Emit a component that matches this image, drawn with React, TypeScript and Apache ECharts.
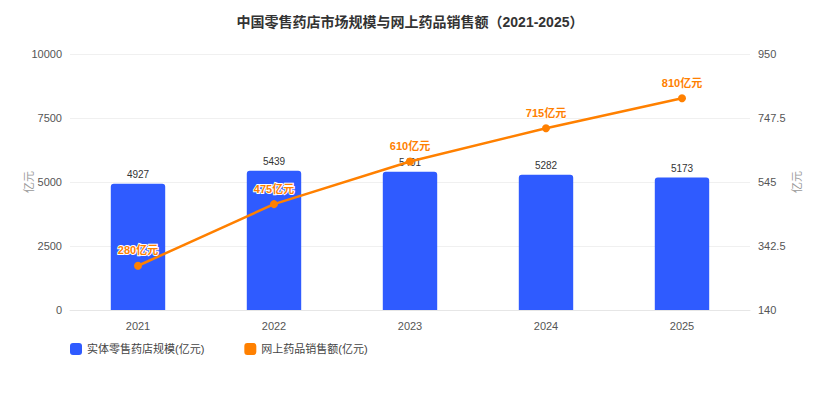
import { useEffect, useRef } from 'react';
import * as echarts from 'echarts';

const years = ['2021', '2022', '2023', '2024', '2025'];
const storeScale = [4927, 5439, 5401, 5282, 5173];
const onlineSales = [280, 475, 610, 715, 810];

export default function App() {
    const chartRef = useRef<HTMLDivElement>(null);

    useEffect(() => {
        if (!chartRef.current) return;
        const chart = echarts.init(chartRef.current, undefined, { renderer: 'svg' });

        chart.setOption({
            animation: false,
            textStyle: { fontFamily: 'Arial, "Liberation Sans", "Noto Sans CJK SC", sans-serif' },
            title: {
                text: '中国零售药店市场规模与网上药品销售额（2021-2025）',
                left: 'center',
                top: 10,
                textStyle: { fontSize: 14, fontWeight: 'bold', color: '#333' },
            },
            legend: {
                left: 65,
                top: 338,
                itemWidth: 12,
                itemHeight: 12,
                itemGap: 40,
                icon: 'roundRect',
                textStyle: { fontSize: 11, color: '#444' },
            },
            grid: { left: 70, right: 70, top: 54, height: 256 },
            xAxis: {
                type: 'category',
                data: years,
                axisLine: { lineStyle: { color: '#e6e6e6' } },
                axisTick: { show: false },
                axisLabel: { color: '#555', fontSize: 11, margin: 10 },
            },
            yAxis: [
                {
                    type: 'value',
                    name: '亿元',
                    nameLocation: 'middle',
                    nameGap: 36,
                    nameMoveOverlap: false,
                    nameTextStyle: { color: '#999', fontSize: 11 },
                    min: 0,
                    max: 10000,
                    interval: 2500,
                    axisLabel: { color: '#555', fontSize: 11, formatter: (v: number) => String(v) },
                    splitLine: { lineStyle: { color: '#f0f0f0' } },
                },
                {
                    type: 'value',
                    name: '亿元',
                    nameLocation: 'middle',
                    nameGap: 41,
                    nameMoveOverlap: false,
                    nameTextStyle: { color: '#999', fontSize: 11 },
                    min: 140,
                    max: 950,
                    interval: 202.5,
                    axisLabel: { color: '#555', fontSize: 11 },
                    splitLine: { show: false },
                },
            ],
            series: [
                {
                    name: '实体零售药店规模(亿元)',
                    type: 'bar',
                    data: storeScale,
                    barWidth: '40%',
                    itemStyle: { color: '#2F5BFF', borderRadius: [3, 3, 0, 0] },
                    label: { show: true, position: 'top', color: '#333', fontSize: 10, distance: 4 },
                },
                {
                    name: '网上药品销售额(亿元)',
                    type: 'line',
                    yAxisIndex: 1,
                    data: onlineSales,
                    symbol: 'circle',
                    symbolSize: 8,
                    lineStyle: { color: '#FF8000', width: 2.5 },
                    itemStyle: { color: '#FF8000' },
                    label: {
                        show: true,
                        position: 'top',
                        formatter: '{c}亿元',
                        color: '#FF8000',
                        fontWeight: 'bold',
                        fontSize: 11,
                        textBorderColor: '#fff',
                        textBorderWidth: 2,
                        distance: 6,
                    },
                },
            ],
        });

        return () => {
            chart.dispose();
        };
    }, []);

    return <div ref={chartRef} style={{ width: '820px', height: '400px', margin: '-8px' }} />;
}
